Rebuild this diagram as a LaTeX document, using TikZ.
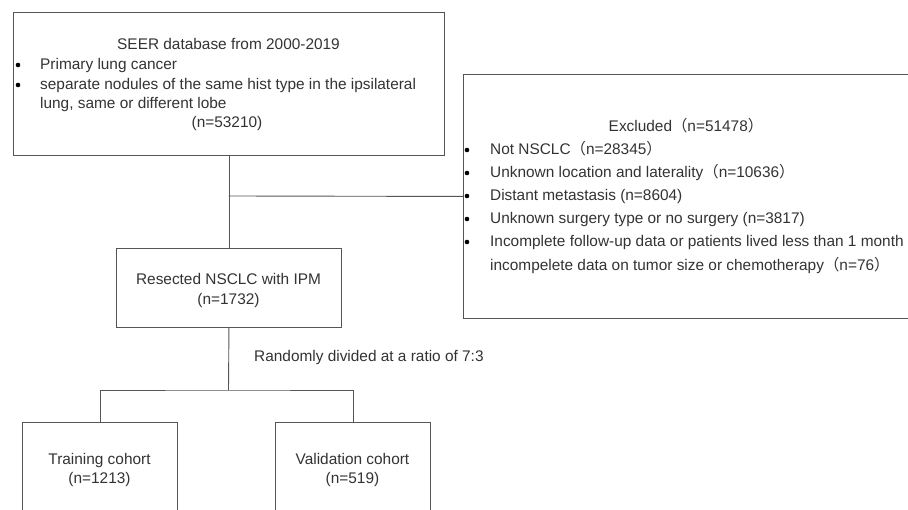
\documentclass[tikz,border=0pt]{standalone}
\usepackage{fontspec}
\setmainfont{Liberation Sans}
\newfontfamily\cjk{Noto Sans CJK SC}
\definecolor{linec}{HTML}{555555}
\definecolor{txtc}{HTML}{333333}
\newcommand{\lp}{{\cjk （}}
\newcommand{\rp}{{\cjk ）}}
\begin{document}
\begin{tikzpicture}[x=1pt,y=-1pt,
  box/.style={draw=linec, line width=0.9pt, inner sep=0pt, anchor=north west},
  conn/.style={draw=linec, line width=0.9pt},
  txt/.style={inner sep=0pt, text=txtc, font=\fontsize{15.4}{18}\selectfont, anchor=mid, yshift=-1.5pt},
  ltxt/.style={txt, anchor=mid west},
  bul/.style={circle, fill=black, inner sep=0pt, minimum size=4.6pt}]
\clip (0,0) rectangle (908,510);
\fill[white] (0,0) rectangle (908,510);
% boxes
\node[box, minimum width=431pt, minimum height=143pt] (seer) at (13,12) {};
\node[box, minimum width=449pt, minimum height=244pt] (excl) at (463,74) {};
\node[box, minimum width=225pt, minimum height=79pt] (res) at (116,248) {};
\node[box, minimum width=155pt, minimum height=100pt] (train) at (22,422) {};
\node[box, minimum width=155pt, minimum height=100pt] (val) at (275,422) {};
% SEER text
\node[txt] (s0) at (228.5,45) {SEER database from 2000-2019};
\node[bul] (sb1) at (18,65) {};
\node[ltxt] (s1) at (40,65) {Primary lung cancer};
\node[bul] (sb2) at (18,85) {};
\node[ltxt] (s2) at (40,85) {separate nodules of the same hist type in the ipsilateral};
\node[ltxt] (s3) at (40,104) {lung, same or different lobe};
\node[txt] (s4) at (227,123) {(n=53210)};
% Excluded text
\node[txt] (e0) at (686,127) {Excluded\lp n=51478\rp};
\node[bul] (eb1) at (467,150) {};
\node[ltxt] (e1) at (490,150) {Not NSCLC\lp n=28345\rp};
\node[bul] (eb2) at (467,173) {};
\node[ltxt] (e2) at (490,173) {Unknown location and laterality\lp n=10636\rp};
\node[bul] (eb3) at (467,196) {};
\node[ltxt] (e3) at (490,196) {Distant metastasis (n=8604)};
\node[bul] (eb4) at (467,219) {};
\node[ltxt] (e4) at (490,219) {Unknown surgery type or no surgery (n=3817)};
\node[bul] (eb5) at (467,242) {};
\node[ltxt] (e5) at (490,242) {Incomplete follow-up data or patients lived less than 1 month};
\node[ltxt] (e6) at (490,266) {incompelete data on tumor size or chemotherapy\lp n=76\rp};
% Resected text
\node[txt] (r0) at (228.5,280) {Resected NSCLC with IPM};
\node[txt] (r1) at (228.5,300) {(n=1732)};
% split label
\node[ltxt] (lab) at (254,357) {Randomly divided at a ratio of 7:3};
% cohorts
\node[txt] (t0) at (99.5,460) {Training cohort};
\node[txt] (t1) at (99.5,479) {(n=1213)};
\node[txt] (v0) at (352.5,460) {Validation cohort};
\node[txt] (v1) at (352.5,479) {(n=519)};
% connectors
\coordinate (j1) at (228.5,196);
\coordinate (j2) at (228.5,390);
\draw[conn] (seer.south) -- (res.north);
\draw[conn] (j1) -- (excl.west);
\draw[conn] (res.south) -- (j2);
\draw[conn] (train.north) |- (j2) -| (val.north);
\end{tikzpicture}
\end{document}
